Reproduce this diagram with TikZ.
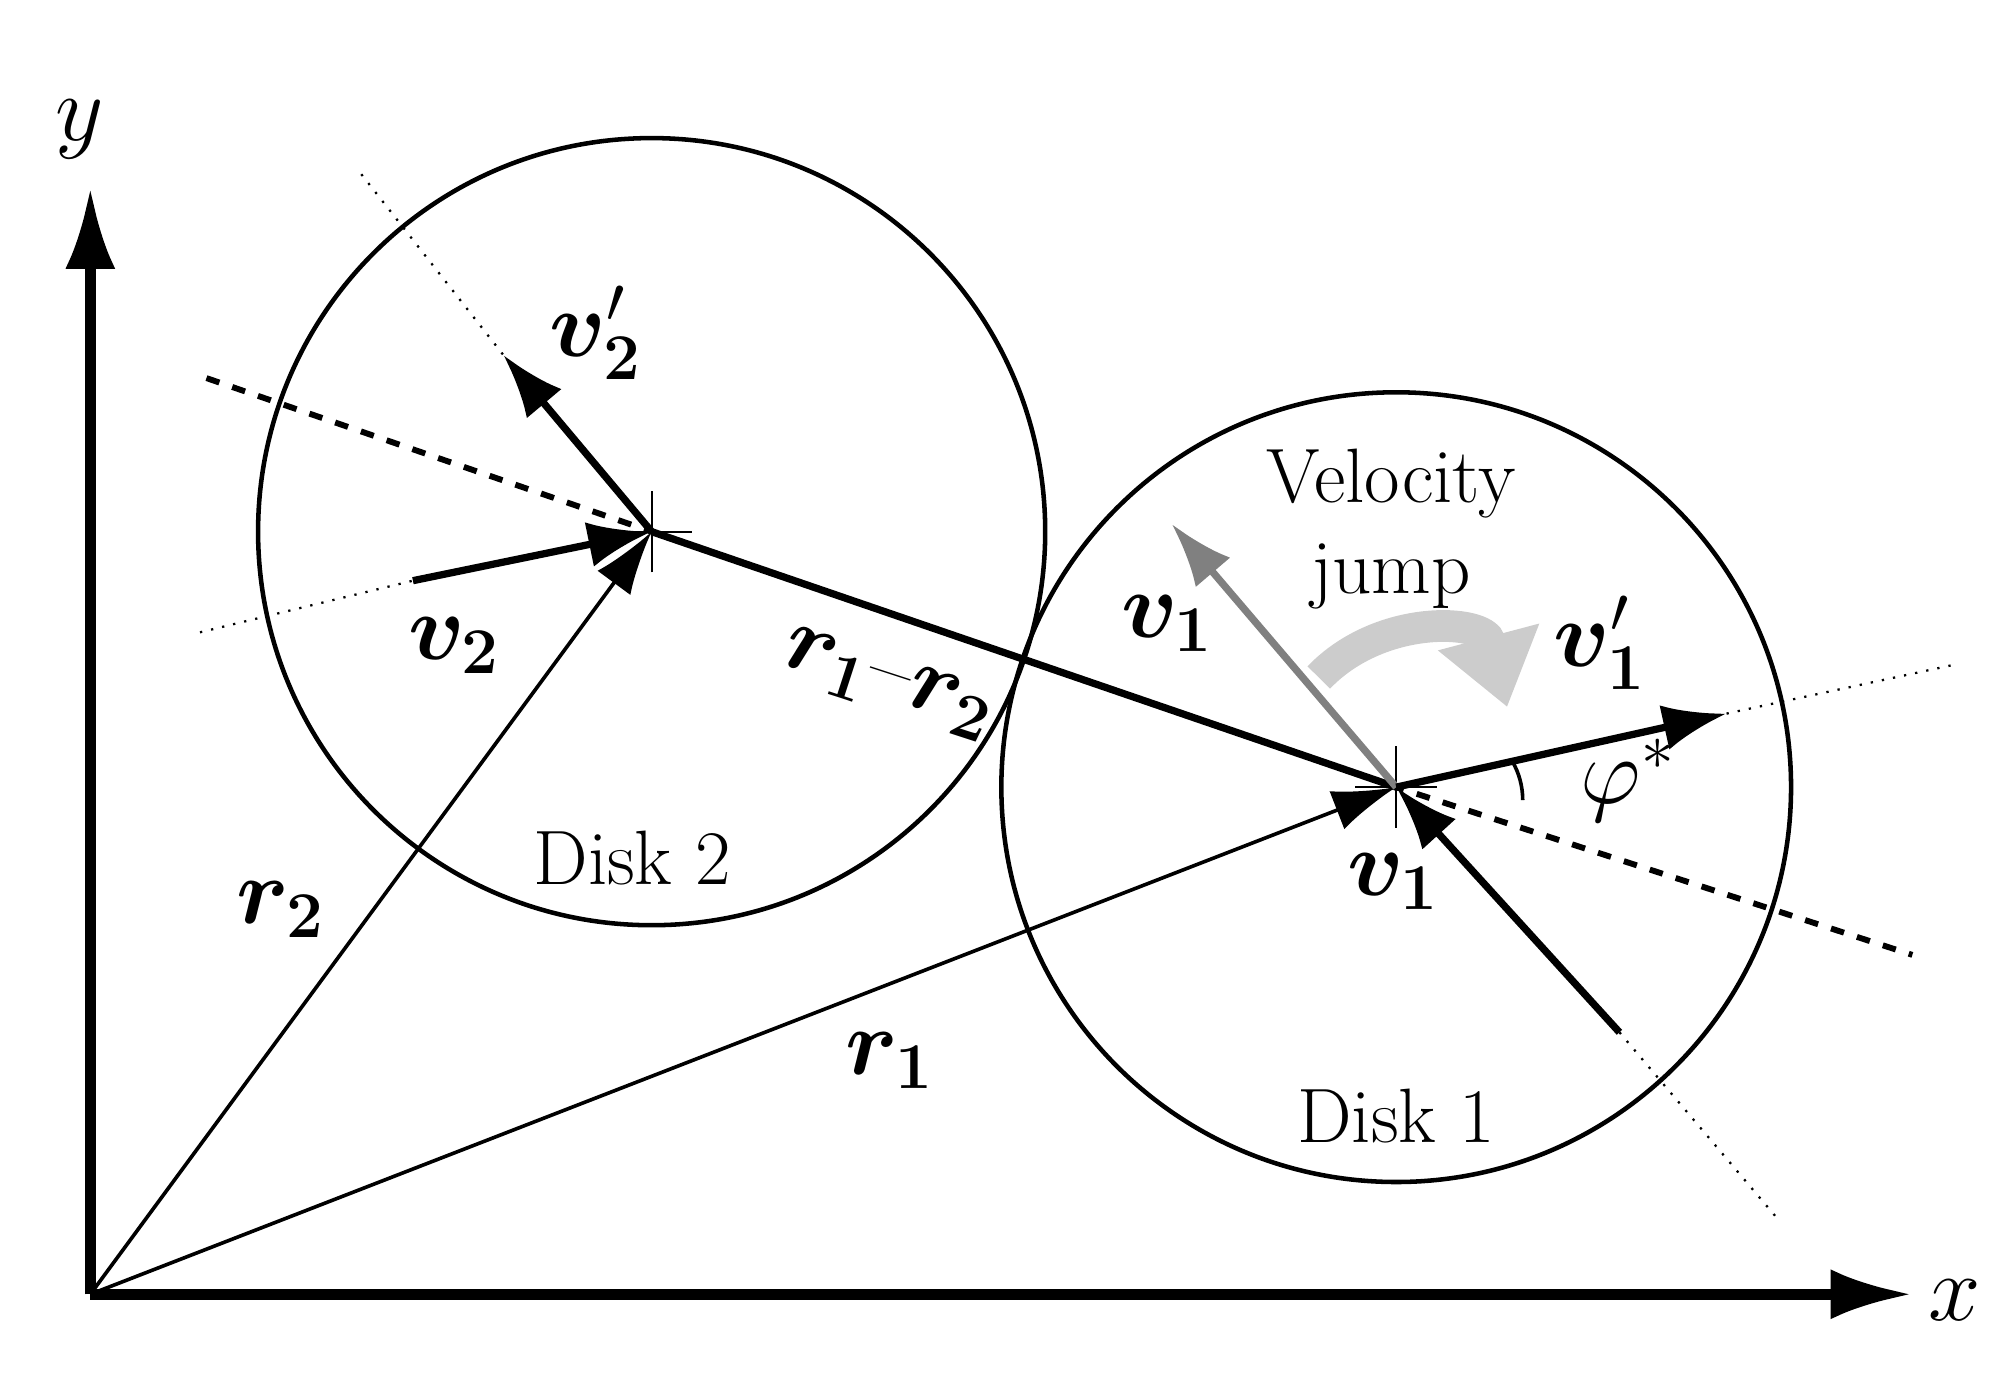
\documentclass[tikz,border=0pt]{standalone}
\usepackage{amsmath}
\usepackage{bm}
\usepackage{tikz}
\usetikzlibrary{arrows.meta}
\tikzset{
  vec/.style={line width=1.6pt,-{Latex[length=14pt,width=10pt]}},
  posvec/.style={line width=0.8pt,-{Latex[length=14pt,width=9pt]}},
  axis/.style={line width=2.4pt,-{Latex[length=18pt,width=11pt]}},
  guide/.style={dotted,line width=0.5pt},
  lbl/.style={font=\fontsize{17}{20}\selectfont},
  mlbl/.style={font=\fontsize{20}{24}\selectfont}
}
\begin{document}
\begin{tikzpicture}[x=0.01cm,y=-0.01cm]
\useasboundingbox (0,0) rectangle (1560,1072);
% points
\coordinate (O) at (70,1003);
\coordinate (ytop) at (70,145);
\coordinate (xend) at (1482,1003);
\coordinate (c2) at (505,412);
\coordinate (c1) at (1082,610);
\coordinate (dashA) at (160,293);
\coordinate (dashB) at (1482,740);
\coordinate (v2s) at (320,450);
\coordinate (v2g) at (155,490);
\coordinate (v2p) at (390,275);
\coordinate (v2pg) at (280,135);
\coordinate (v1p) at (1338,553);
\coordinate (v1pg) at (1515,515);
\coordinate (v1s) at (1255,800);
\coordinate (v1g) at (1378,945);
\coordinate (v1old) at (908,406);
% axes
\draw[axis] (O) -- (ytop);
\draw[axis] (O) -- (xend);
\node[mlbl] (ylab) at (62,100) {$y$};
\node[mlbl] (xlab) at (1515,1008) {$x$};
% disks
\draw[line width=1pt] (c2) circle (305);
\draw[line width=1pt] (c1) circle (306);
\node[lbl] (disk2) at (490,665) {Disk 2};
\node[lbl] (disk1) at (1082,865) {Disk 1};
% line of centres
\draw[dashed,line width=1.3pt] (dashA) -- (c2) -- (c1) -- (dashB);
\draw[line width=1.6pt] (c2) -- (c1);
% guides
\draw[guide] (v2g) -- (v2s);
\draw[guide] (v2pg) -- (v2p);
\draw[guide] (v1p) -- (v1pg);
\draw[guide] (v1s) -- (v1g);
% crosshairs
\foreach \c in {c2,c1}
  \draw[line width=0.5pt] ([xshift=-9pt]\c) -- ([xshift=9pt]\c)
    ([yshift=-9pt]\c) -- ([yshift=9pt]\c);
% position vectors
\draw[posvec] (O) -- (c2);
\draw[posvec] (O) -- (c1);
% velocities
\draw[vec] (v2s) -- (c2);
\draw[vec] (c2) -- (v2p);
\draw[vec,gray] (c1) -- (v1old);
\draw[vec] (v1s) -- (c1);
\draw[vec] (c1) -- (v1p);
% velocity jump
\draw[line width=7pt,gray!40,-{Triangle[length=16pt,width=22pt]}]
  (1022,525) .. controls (1070,475) and (1150,480) .. (1168,548);
\draw[line width=0.8pt] (1172,590) arc[start angle=-30,end angle=0,radius=60];
% labels
\node[mlbl] (v2plab) at (462,258) {$\bm{v_2}'$};
\node[mlbl] (v2lab) at (352,500) {$\bm{v_2}$};
\node[mlbl,rotate=-18,inner sep=0pt] (r12lab) at (688,530) {$\bm{r_1}$--$\bm{r_2}$};
\node[mlbl] (v1gl) at (905,483) {$\bm{v_1}$};
\node[lbl,align=center] (jump) at (1078,410) {Velocity\\jump};
\node[mlbl] (v1plab) at (1240,498) {$\bm{v_1}'$};
\node[mlbl] (philab) at (1262,605) {$\varphi^*$};
\node[mlbl] (v1lab) at (1080,683) {$\bm{v_1}$};
\node[mlbl] (r2lab) at (218,705) {$\bm{r_2}$};
\node[mlbl] (r1lab) at (690,822) {$\bm{r_1}$};
\end{tikzpicture}
\end{document}
